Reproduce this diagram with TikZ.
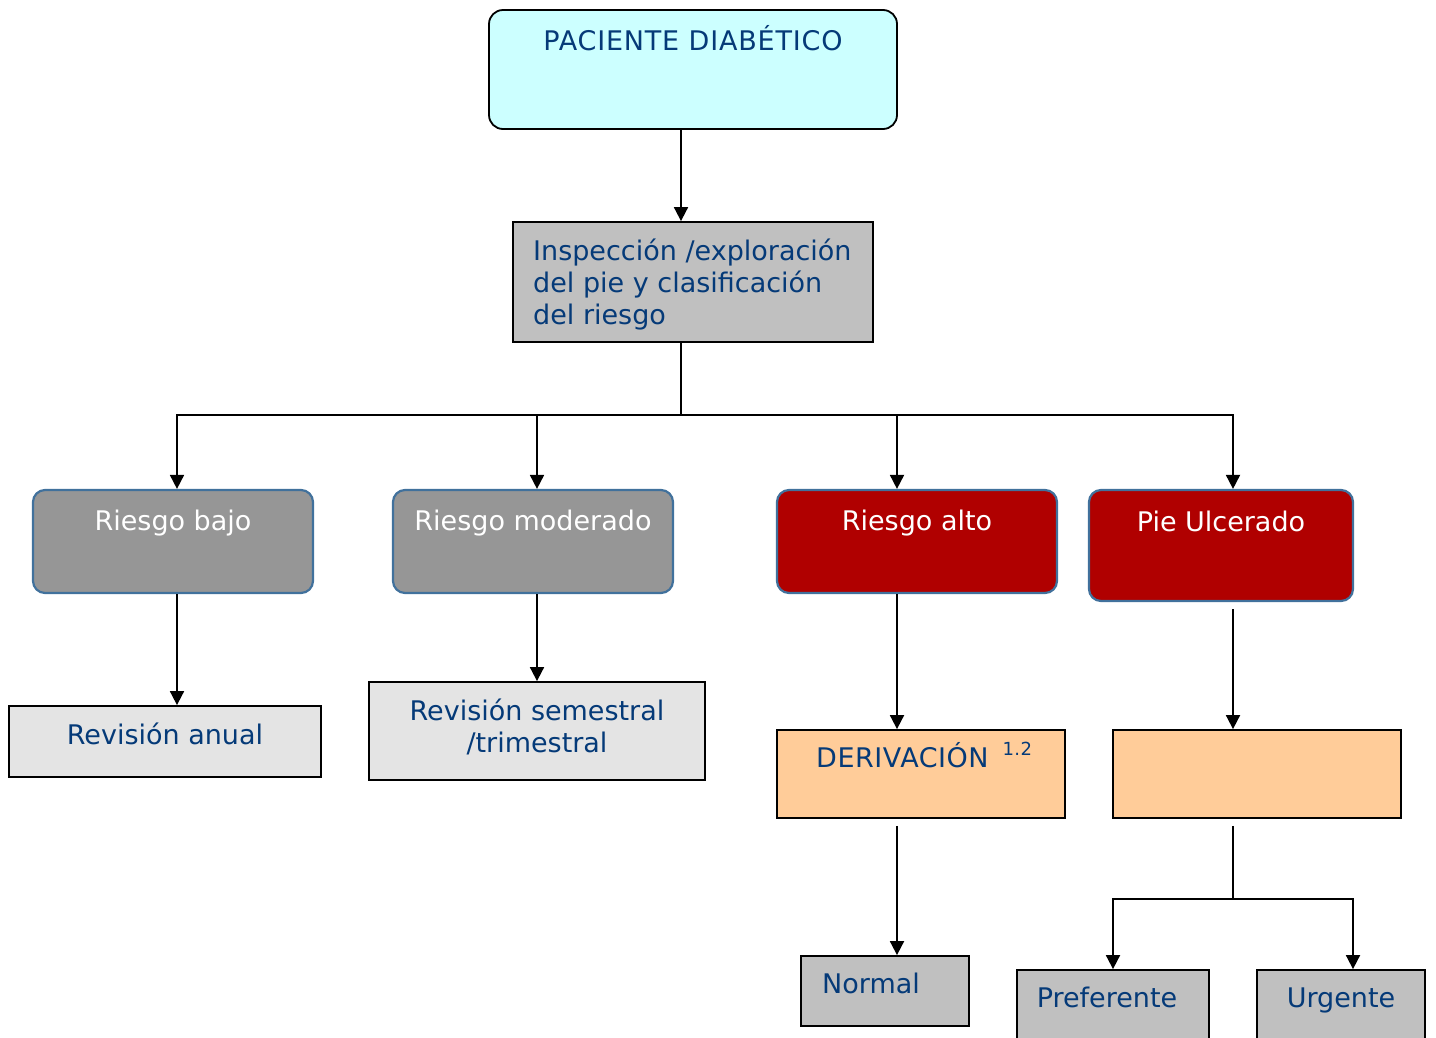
\documentclass[tikz,border=0pt]{standalone}
\usepackage{fontspec}
\setmainfont{DejaVu Sans}
\usetikzlibrary{arrows.meta,positioning}

\definecolor{txtblue}{HTML}{053A78}
\definecolor{paleCyan}{HTML}{CCFFFF}
\definecolor{boxGray}{HTML}{C0C0C0}
\definecolor{riskGray}{HTML}{969696}
\definecolor{riskRed}{HTML}{B00000}
\definecolor{riskEdge}{HTML}{41719C}
\definecolor{peach}{HTML}{FFCC99}
\definecolor{stone}{HTML}{E4E4E4}

\begin{document}
\begin{tikzpicture}[x=1pt, y=-1pt,
  font=\fontsize{27}{32}\selectfont,
  box/.style={draw=black, line width=1.8pt, inner sep=0pt},
  risk/.style={draw=riskEdge, line width=2.2pt, rounded corners=12pt, inner sep=0pt},
  txt/.style={text=txtblue, inner sep=0pt},
  wtxt/.style={text=white, inner sep=0pt},
  arr/.style={line width=1.8pt, -{Triangle[width=14pt,length=14pt]}},
  ln/.style={line width=1.8pt}]

  % page
  \clip (0,0) rectangle (1436,1037);

  % top
  \node[box, rounded corners=14pt, fill=paleCyan, minimum width=408pt, minimum height=119pt] (top) at (693,69.5) {};
  \node[txt, anchor=base] (topT) at (693,50) {\addfontfeature{LetterSpace=3}PACIENTE DIABÉTICO};

  \node[box, fill=boxGray, minimum width=360pt, minimum height=120pt] (insp) at (693,282) {};
  \node[txt, anchor=west, align=left] (inspT) at (533,285) {Inspección /exploración\\del pie y clasificación\\del riesgo};

  % risk levels
  \node[risk, fill=riskGray, minimum width=280pt, minimum height=103pt] (bajo) at (173,541.5) {};
  \node[wtxt, anchor=base] (bajoT) at (173,530) {Riesgo bajo};
  \node[risk, fill=riskGray, minimum width=280pt, minimum height=103pt] (mod) at (533,541.5) {};
  \node[wtxt, anchor=base] (modT) at (533,530) {Riesgo moderado};
  \node[risk, fill=riskRed, minimum width=280pt, minimum height=103pt] (alto) at (917,541.5) {};
  \node[wtxt, anchor=base] (altoT) at (917,530) {Riesgo alto};
  \node[risk, fill=riskRed, minimum width=264pt, minimum height=111pt] (pie) at (1221,545.5) {};
  \node[wtxt, anchor=base] (pieT) at (1221,531) {Pie Ulcerado};

  % follow-up
  \node[box, fill=stone, minimum width=312pt, minimum height=71pt] (anual) at (165,741.5) {};
  \node[txt, anchor=base] (anualT) at (165,744) {Revisión anual};
  \node[box, fill=stone, minimum width=336pt, minimum height=98pt] (sem) at (537,731) {};
  \node[txt, align=center] (semT) at (537,727) {Revisión semestral\\/trimestral};

  \node[box, fill=peach, minimum width=288pt, minimum height=88pt] (deriv) at (921,774) {};
  \node[txt, anchor=base west] (derivT) at (816,767) {\addfontfeature{LetterSpace=2}DERIVACIÓN\hspace{14pt}{\fontsize{18}{20}\selectfont\raisebox{12pt}{1.2}}};
  \node[box, fill=peach, minimum width=288pt, minimum height=88pt] (orng) at (1257,774) {};

  \node[box, fill=boxGray, minimum width=168pt, minimum height=70pt] (normal) at (885,991) {};
  \node[txt, anchor=base west] (normalT) at (822,993) {Normal};
  \node[box, fill=boxGray, minimum width=192pt, minimum height=90pt] (pref) at (1113,1015) {};
  \node[txt, anchor=base] (prefT) at (1107,1007) {Preferente};
  \node[box, fill=boxGray, minimum width=168pt, minimum height=90pt] (urg) at (1341,1015) {};
  \node[txt, anchor=base] (urgT) at (1341,1007) {Urgente};

  % edges
  \draw[arr] ([xshift=-12pt]top.south) -- ([xshift=-12pt]insp.north);
  \coordinate (bus) at ([shift={(-12,72)}]insp.south);
  \draw[ln] ([xshift=-12pt]insp.south) -- (bus);
  \draw[arr] (bus) -| ([xshift=4pt]bajo.north);
  \draw[arr] (bus) -| ([xshift=4pt]mod.north);
  \draw[arr] (bus) -| ([xshift=-20pt]alto.north);
  \draw[arr] (bus) -| ([xshift=12pt]pie.north);

  \draw[arr] ([xshift=4pt]bajo.south) -- ([xshift=4pt]bajo.south |- anual.north);
  \draw[arr] ([xshift=4pt]mod.south) -- (sem.north);
  \draw[arr] ([xshift=-20pt]alto.south) -- ([xshift=-20pt]alto.south |- deriv.north);
  \draw[arr] ([shift={(12,7)}]pie.south) -- ([xshift=-24pt]orng.north);

  \draw[arr] ([shift={(-24,7)}]deriv.south) -- ([xshift=12pt]normal.north);
  \coordinate (split) at ([shift={(-24,80)}]orng.south);
  \draw[ln] ([shift={(-24,7)}]orng.south) -- (split);
  \draw[arr] (split) -| (pref.north);
  \draw[arr] (split) -| ([xshift=12pt]urg.north);
\end{tikzpicture}
\end{document}
